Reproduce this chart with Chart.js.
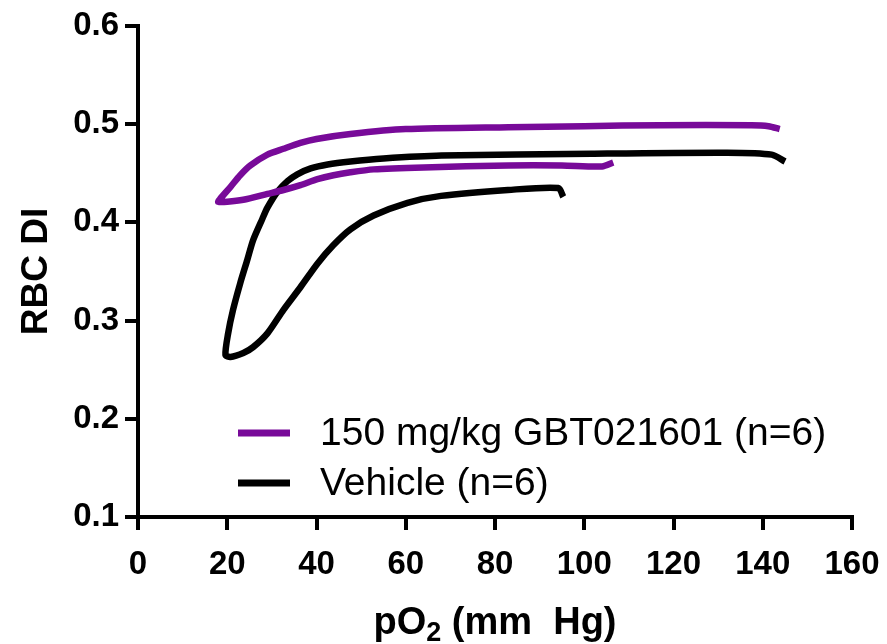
<!DOCTYPE html>
<html>
<head>
<meta charset="utf-8">
<script src="https://cdn.jsdelivr.net/npm/chart.js@4/dist/chart.umd.min.js"></script>
<style>
html,body{margin:0;padding:0;background:#fff;}
#wrap{width:887px;height:644px;position:relative;}
</style>
</head>
<body>
<div id="wrap"><canvas id="c" width="887" height="644"></canvas></div>
<script>
// Series labels
const seriesLabels = ["150 mg/kg GBT021601 (n=6)", "Vehicle (n=6)"];
const seriesColors = ["#780A99", "#000000"];

// 150 mg/kg GBT021601: pO2 (x) and RBC DI (y), traced along the loop
const gbtX = [143.8, 141.3, 137.5, 117, 100, 83, 60, 47.6, 40, 36.4, 32.6, 29, 25.2, 22.9, 20.7, 18.4, 18.0,
              20.0, 23.6, 29, 32.6, 36.4, 40.2, 43.8, 47.6, 52.8, 64, 83, 95, 104, 106.5];
const gbtY = [0.495, 0.498, 0.499, 0.499, 0.498, 0.497, 0.495, 0.490, 0.485, 0.481, 0.475, 0.469, 0.458, 0.448, 0.436, 0.424, 0.421,
              0.421, 0.423, 0.429, 0.433, 0.438, 0.444, 0.448, 0.451, 0.454, 0.456, 0.458, 0.458, 0.457, 0.461];

// Vehicle
const vehX = [145, 142, 132, 101.6, 68, 55, 47.6, 42.5, 38.7, 35.7, 33.5, 31.2, 29, 27.9, 25.8, 24.5, 22.9, 21.3, 20.2, 19.6,
              20.7, 23.6, 25.8, 29, 32.6, 36.4, 40.2, 43.8, 47.6, 52.8, 60.4, 67.9, 82.9, 94.2, 95.3];
const vehY = [0.462, 0.469, 0.471, 0.470, 0.468, 0.465, 0.462, 0.459, 0.455, 0.449, 0.442, 0.431, 0.415, 0.404, 0.382, 0.362, 0.338, 0.311, 0.287, 0.265,
              0.263, 0.267, 0.273, 0.287, 0.311, 0.334, 0.358, 0.377, 0.393, 0.407, 0.420, 0.427, 0.433, 0.435, 0.426];

// Axis ticks
const xTicks = [0, 20, 40, 60, 80, 100, 120, 140, 160];
const yTicks = [0.1, 0.2, 0.3, 0.4, 0.5, 0.6];

const toPts = (xs, ys) => xs.map((x, i) => ({x: x, y: ys[i]}));

const FONT = '"Liberation Sans", Arial, sans-serif';

const decorPlugin = {
  id: 'decor',
  afterDraw(chart) {
    const ctx = chart.ctx;
    const ca = chart.chartArea;
    ctx.save();
    // legend inside plot area
    chart.data.datasets.forEach((ds, i) => {
      const y = ca.top + 407 + i * 50;
      ctx.strokeStyle = ds.borderColor;
      ctx.lineWidth = 7;
      ctx.lineCap = 'butt';
      ctx.beginPath();
      ctx.moveTo(ca.left + 100, y);
      ctx.lineTo(ca.left + 152, y);
      ctx.stroke();
      ctx.fillStyle = '#000';
      ctx.font = '39px ' + FONT;
      ctx.textBaseline = 'middle';
      ctx.textAlign = 'left';
      ctx.fillText(ds.label, ca.left + 182, y + 1);
    });
    // x title with subscript
    const cx = (ca.left + ca.right) / 2;
    const base = 634;
    const p1 = 'pO', sub = '2', p2 = ' (mm  Hg)';
    ctx.font = 'bold 38px ' + FONT;
    const w1 = ctx.measureText(p1).width, w3 = ctx.measureText(p2).width;
    ctx.font = 'bold 27px ' + FONT;
    const w2 = ctx.measureText(sub).width;
    let x = cx - (w1 + w2 + w3) / 2;
    ctx.fillStyle = '#000';
    ctx.textAlign = 'left';
    ctx.textBaseline = 'alphabetic';
    ctx.font = 'bold 38px ' + FONT;
    ctx.fillText(p1, x, base); x += w1;
    ctx.font = 'bold 27px ' + FONT;
    ctx.fillText(sub, x, base + 7); x += w2;
    ctx.font = 'bold 38px ' + FONT;
    ctx.fillText(p2, x, base);
    // y title
    ctx.translate(37, (ca.top + ca.bottom) / 2);
    ctx.rotate(-Math.PI / 2);
    ctx.textAlign = 'center';
    ctx.textBaseline = 'middle';
    ctx.font = 'bold 37px ' + FONT;
    ctx.fillText('RBC DI', 0, 0);
    ctx.restore();
  }
};

new Chart(document.getElementById('c'), {
  type: 'scatter',
  data: {
    datasets: [
      {label: seriesLabels[0], data: toPts(gbtX, gbtY), borderColor: seriesColors[0], backgroundColor: seriesColors[0],
       showLine: true, pointRadius: 0, borderWidth: 6.5, tension: 0.25, fill: false},
      {label: seriesLabels[1], data: toPts(vehX, vehY), borderColor: seriesColors[1], backgroundColor: seriesColors[1],
       showLine: true, pointRadius: 0, borderWidth: 6.5, tension: 0.25, fill: false}
    ]
  },
  options: {
    responsive: false,
    animation: false,
    devicePixelRatio: 1,
    layout: {padding: {top: 26, right: 35, left: 0, bottom: 0}},
    plugins: {legend: {display: false}, tooltip: {enabled: false}},
    scales: {
      x: {
        type: 'linear', min: 0, max: 160,
        afterBuildTicks: (s) => { s.ticks = xTicks.map(v => ({value: v})); },
        afterFit: (s) => { s.height = 127; s.paddingLeft = 0; s.paddingRight = 0; },
        border: {color: '#000', width: 4},
        grid: {drawOnChartArea: false, color: '#000', lineWidth: 4, tickLength: 13},
        ticks: {color: '#000', padding: 15, font: {family: FONT, size: 33, weight: 'bold'}, maxRotation: 0},
        title: {display: false}
      },
      y: {
        type: 'linear', min: 0.1, max: 0.6,
        afterBuildTicks: (s) => { s.ticks = yTicks.map(v => ({value: v})); },
        afterFit: (s) => { s.width = 138; s.paddingTop = 0; s.paddingBottom = 0; },
        border: {color: '#000', width: 4},
        grid: {drawOnChartArea: false, color: '#000', lineWidth: 4, tickLength: 13},
        ticks: {color: '#000', padding: 6, callback: (v) => v.toFixed(1), font: {family: FONT, size: 33, weight: 'bold'}},
        title: {display: false}
      }
    }
  },
  plugins: [decorPlugin]
});
</script>
</body>
</html>
